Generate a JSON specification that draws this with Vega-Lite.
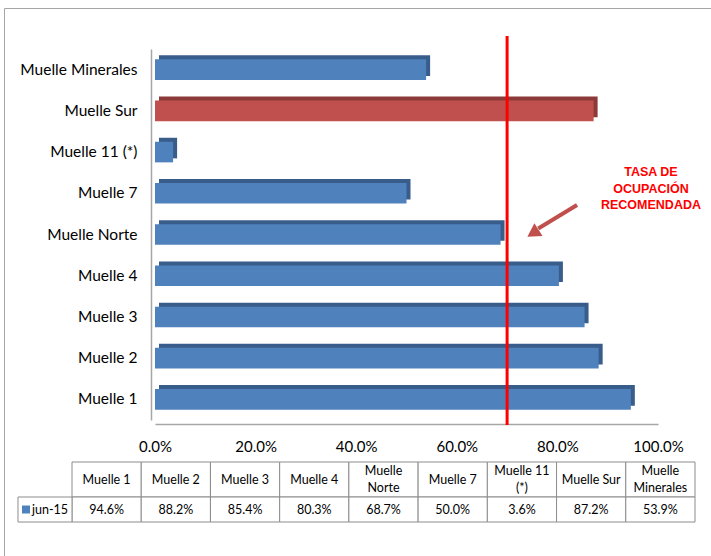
{
  "$schema": "https://vega.github.io/schema/vega-lite/v6.json",
  "width": 707,
  "height": 548,
  "autosize": {"type": "none"},
  "padding": {"left": 4, "top": 8, "right": 0, "bottom": 0},
  "background": "white",
  "config": {
    "view": {"stroke": "#A6A6A6", "strokeWidth": 1},
    "font": "Lato",
    "text": {"font": "Lato", "fontSize": 12.5, "color": "#000000"}
  },
  "data": {
    "values": [
      {"muelle": "Muelle 1", "tabla": "Muelle 1", "valor": 0.946},
      {"muelle": "Muelle 2", "tabla": "Muelle 2", "valor": 0.882},
      {"muelle": "Muelle 3", "tabla": "Muelle 3", "valor": 0.854},
      {"muelle": "Muelle 4", "tabla": "Muelle 4", "valor": 0.803},
      {"muelle": "Muelle Norte", "tabla": "Muelle\nNorte", "valor": 0.687},
      {"muelle": "Muelle 7", "tabla": "Muelle 7", "valor": 0.5},
      {"muelle": "Muelle 11 (*)", "tabla": "Muelle 11\n(*)", "valor": 0.036},
      {"muelle": "Muelle Sur", "tabla": "Muelle Sur", "valor": 0.872},
      {"muelle": "Muelle Minerales", "tabla": "Muelle\nMinerales", "valor": 0.539}
    ]
  },
  "resolve": {
    "scale": {"x": "independent", "y": "independent"},
    "axis": {"x": "independent", "y": "independent"}
  },
  "layer": [
    {
      "layer": [
        {
          "mark": {"type": "bar", "xOffset": 4, "x2Offset": 4, "yOffset": -4},
          "encoding": {
            "y": {
              "field": "muelle",
              "type": "nominal",
              "scale": {
                "domain": ["Muelle Minerales", "Muelle Sur", "Muelle 11 (*)", "Muelle 7", "Muelle Norte", "Muelle 4", "Muelle 3", "Muelle 2", "Muelle 1"],
                "range": [41, 412],
                "paddingInner": 0.5,
                "paddingOuter": 0.25
              },
              "axis": {
                "orient": "left",
                "offset": -147,
                "title": null,
                "ticks": false,
                "labelPadding": 14,
                "labelFontSize": 15.5,
                "labelColor": "#000000",
                "labelFont": "Lato",
                "labelLimit": 300,
                "domainColor": "#A6A6A6",
                "domainWidth": 1.5,
                "grid": false
              }
            },
            "x": {
              "field": "valor",
              "type": "quantitative",
              "scale": {"domain": [0, 1], "range": [151, 654], "nice": false, "zero": true},
              "axis": {
                "orient": "bottom",
                "offset": -132,
                "title": null,
                "values": [0, 0.2, 0.4, 0.6, 0.8, 1],
                "format": ".1%",
                "ticks": false,
                "grid": false,
                "labelPadding": 15,
                "labelFontSize": 15,
                "labelColor": "#000000",
                "labelFont": "Lato",
                "labelFlush": false,
                "labelOverlap": false,
                "domainColor": "#A6A6A6",
                "domainWidth": 1.5
              }
            },
            "color": {
              "condition": {"test": "datum.muelle === 'Muelle Sur'", "value": "#8C3A38"},
              "value": "#385D8A"
            }
          }
        },
        {
          "mark": {"type": "bar"},
          "encoding": {
            "y": {"field": "muelle", "type": "nominal"},
            "x": {"field": "valor", "type": "quantitative"},
            "color": {
              "condition": {"test": "datum.muelle === 'Muelle Sur'", "value": "#C0504D"},
              "value": "#4F81BD"
            }
          }
        },
        {
          "data": {"values": [{"recomendada": 0.7}]},
          "mark": {"type": "rule", "color": "#FF0000", "strokeWidth": 3, "yOffset": -33.6, "y2Offset": 25.6},
          "encoding": {
            "x": {"field": "recomendada", "type": "quantitative"},
            "y": {"datum": "Muelle Minerales", "type": "nominal"},
            "y2": {"datum": "Muelle 1"}
          }
        },
        {
          "data": {"values": [{}]},
          "mark": {"type": "rule", "color": "#C0504D", "strokeWidth": 4, "yOffset": 11.7, "y2Offset": -6},
          "encoding": {
            "x": {"datum": 0.839, "type": "quantitative"},
            "x2": {"datum": 0.762},
            "y": {"datum": "Muelle 7", "type": "nominal"},
            "y2": {"datum": "Muelle Norte"}
          }
        },
        {
          "data": {"values": [{}]},
          "mark": {"type": "point", "shape": "triangle", "filled": true, "size": 230, "angle": 237.5, "color": "#C0504D", "opacity": 1, "yOffset": -2.5},
          "encoding": {
            "x": {"datum": 0.755, "type": "quantitative"},
            "y": {"datum": "Muelle Norte", "type": "nominal"}
          }
        },
        {
          "data": {"values": [{}]},
          "mark": {"type": "text", "font": "Liberation Sans", "fontWeight": "bold", "fontSize": 12.5, "color": "#FF0000", "align": "center", "baseline": "middle", "lineHeight": 16.5, "yOffset": -21},
          "encoding": {
            "x": {"datum": 0.986, "type": "quantitative"},
            "y": {"datum": "Muelle 7", "type": "nominal"},
            "text": {"value": ["TASA DE", "OCUPACIÓN", "RECOMENDADA"]}
          }
        }
      ]
    },
    {
      "layer": [
        {
          "mark": {"type": "rect", "fill": "white", "stroke": "#8C8C8C", "strokeWidth": 1, "height": 35},
          "encoding": {
            "x": {
              "field": "muelle",
              "type": "nominal",
              "scale": {
                "domain": ["jun-15", "Muelle 1", "Muelle 2", "Muelle 3", "Muelle 4", "Muelle Norte", "Muelle 7", "Muelle 11 (*)", "Muelle Sur", "Muelle Minerales"],
                "range": [-1.22, 691],
                "paddingInner": 0,
                "paddingOuter": 0
              },
              "axis": null
            },
            "y": {
              "datum": "header",
              "type": "nominal",
              "scale": {"domain": ["header", "value"], "range": [456.5, 516.5], "paddingInner": 0, "paddingOuter": 0},
              "axis": null
            }
          }
        },
        {
          "transform": [{"filter": "indexof(datum.tabla, '\\n') < 0"}],
          "mark": {"type": "text", "align": "center", "baseline": "middle"},
          "encoding": {
            "x": {"field": "muelle", "type": "nominal"},
            "y": {"datum": "header", "type": "nominal"},
            "text": {"field": "tabla"}
          }
        },
        {
          "transform": [{"filter": "indexof(datum.tabla, '\\n') >= 0"}],
          "mark": {"type": "text", "lineBreak": "\n", "lineHeight": 17, "align": "center", "baseline": "middle", "yOffset": -8.5},
          "encoding": {
            "x": {"field": "muelle", "type": "nominal"},
            "y": {"datum": "header", "type": "nominal"},
            "text": {"field": "tabla"}
          }
        },
        {
          "mark": {"type": "rect", "fill": "white", "stroke": "#8C8C8C", "strokeWidth": 1, "height": 25},
          "encoding": {
            "x": {"field": "muelle", "type": "nominal"},
            "y": {"datum": "value", "type": "nominal"}
          }
        },
        {
          "mark": {"type": "text", "align": "center", "baseline": "middle"},
          "encoding": {
            "x": {"field": "muelle", "type": "nominal"},
            "y": {"datum": "value", "type": "nominal"},
            "text": {"field": "valor", "format": ".1%"}
          }
        },
        {
          "data": {"values": [{"serie": "jun-15"}]},
          "layer": [
            {
              "mark": {"type": "rect", "fill": "white", "stroke": "#8C8C8C", "strokeWidth": 1, "width": 54, "height": 25, "xOffset": 7.6},
              "encoding": {
                "x": {"field": "serie", "type": "nominal"},
                "y": {"datum": "value", "type": "nominal"}
              }
            },
            {
              "mark": {"type": "point", "shape": "square", "filled": true, "size": 64, "color": "#4F81BD", "opacity": 1, "xOffset": -11.4},
              "encoding": {
                "x": {"field": "serie", "type": "nominal"},
                "y": {"datum": "value", "type": "nominal"}
              }
            },
            {
              "mark": {"type": "text", "align": "left", "baseline": "middle", "xOffset": -5.4},
              "encoding": {
                "x": {"field": "serie", "type": "nominal"},
                "y": {"datum": "value", "type": "nominal"},
                "text": {"field": "serie"}
              }
            }
          ]
        }
      ]
    }
  ]
}
